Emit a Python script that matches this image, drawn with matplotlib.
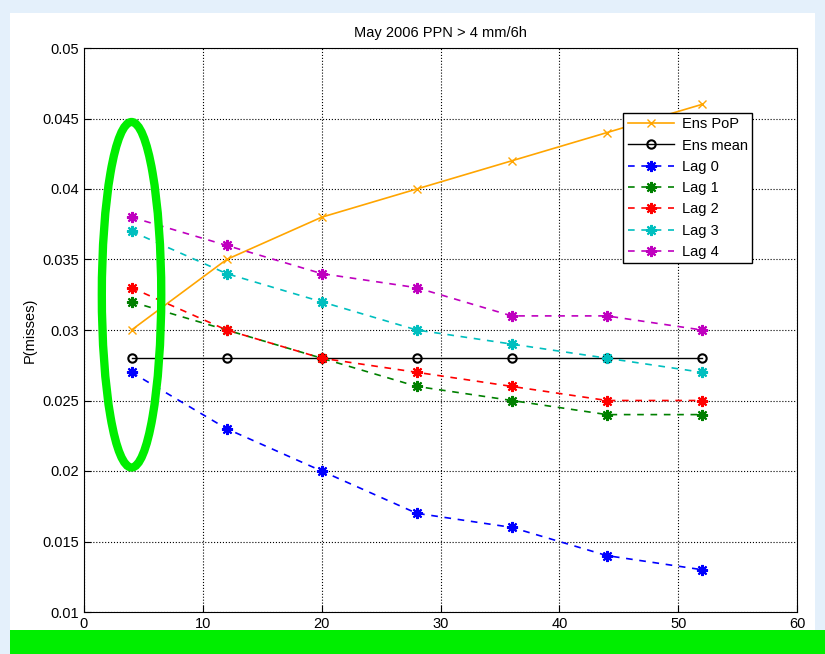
import matplotlib
matplotlib.use("Agg")
import matplotlib.pyplot as plt
from matplotlib.patches import Ellipse, Rectangle

# Lead times (h) and miss probabilities
lead = [4, 12, 20, 28, 36, 44, 52]
ens_pop = [0.030, 0.035, 0.038, 0.040, 0.042, 0.044, 0.046]
ens_mean = [0.028, 0.028, 0.028, 0.028, 0.028, 0.028, 0.028]
lag0 = [0.027, 0.023, 0.020, 0.017, 0.016, 0.014, 0.013]
lag1 = [0.032, 0.030, 0.028, 0.026, 0.025, 0.024, 0.024]
lag2 = [0.033, 0.030, 0.028, 0.027, 0.026, 0.025, 0.025]
lag3 = [0.037, 0.034, 0.032, 0.030, 0.029, 0.028, 0.027]
lag4 = [0.038, 0.036, 0.034, 0.033, 0.031, 0.031, 0.030]

plt.rcParams['font.family'] = 'Liberation Sans'
plt.rcParams['font.size'] = 10.5

fig = plt.figure(figsize=(8.25, 6.54), dpi=100)
fig.patch.set_facecolor('#e4f0fb')
# white slide panel and green bar underneath
fig.add_artist(Rectangle((10/825, 0), 805/825, 1 - 13/654, transform=fig.transFigure,
                         facecolor='white', edgecolor='none', zorder=-1))
fig.add_artist(Rectangle((10/825, 0), 815/825, 24/654, transform=fig.transFigure,
                         facecolor='#00ee00', edgecolor='none', zorder=5))

ax = fig.add_axes([84/825, 1 - 612/654, 713/825, 564/654])
ax.plot(lead, ens_pop, '-x', color='orange', label='Ens PoP', lw=1.2, ms=6)
ax.plot(lead, ens_mean, '-o', color='black', label='Ens mean', lw=1, ms=6,
        mfc='none', mew=1.5)
lags = [lag0, lag1, lag2, lag3, lag4]
cols = ['blue', 'green', 'red', 'c', 'm']
star = (8, 2, 0)  # asterisk marker
for i, (vals, c) in enumerate(zip(lags, cols)):
    ax.plot(lead, vals, '--', marker=star, color=c, label='Lag %d' % i, lw=1.2,
            ms=8, mew=1.5, dashes=(4, 4))

ax.set_xlim(0, 60)
ax.set_ylim(0.01, 0.05)
ax.set_xticks(range(0, 61, 10))
ax.set_yticks([0.01, 0.015, 0.02, 0.025, 0.03, 0.035, 0.04, 0.045, 0.05])
ax.set_yticklabels(['0.01', '0.015', '0.02', '0.025', '0.03', '0.035', '0.04', '0.045', '0.05'])
ax.tick_params(direction='in', length=5, labelsize=10.5)
ax.grid(True, linestyle=':', color='black', linewidth=0.8)
ax.set_ylabel('P(misses)', fontsize=10.5)
ax.set_title('May 2006 PPN > 4 mm/6h', fontsize=10.5, pad=8)

ax.legend(loc='upper right', bbox_to_anchor=(0.937, 0.885), fontsize=10.5,
          fancybox=False, edgecolor='black', framealpha=1, handlelength=3.2,
          borderpad=0.3, labelspacing=0.5, handletextpad=0.5, borderaxespad=0)

# highlight the shortest lead time
ax.add_patch(Ellipse((4, 0.0325), 5.0, 0.0245, fill=False, edgecolor='#00ee00',
                     lw=6, zorder=6, clip_on=False))

fig.savefig('out.png', dpi=100, facecolor=fig.get_facecolor())
